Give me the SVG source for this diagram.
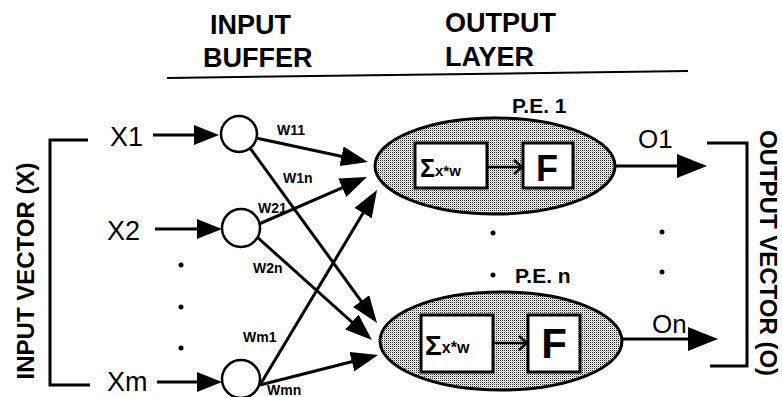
<svg xmlns="http://www.w3.org/2000/svg" width="782" height="397" viewBox="0 0 782 397">
  <style>
    text { font-family: "Liberation Sans", Arial, Helvetica, sans-serif; fill: #000; }
    .hdr { font-size: 27px; font-weight: bold; }
    .inp { font-size: 27px; }
    .out { font-size: 26px; }
    .w { font-size: 14px; font-weight: bold; }
    .pe { font-size: 21px; font-weight: bold; }
    .vec { font-size: 24px; font-weight: bold; }
    .sig { font-weight: bold; }
    .f { font-weight: bold; text-anchor: middle; }
    .wire { stroke: #000; stroke-width: 3; fill: none; }
    .thin { stroke: #000; stroke-width: 2.5; fill: none; }
    .buf { fill: #fff; stroke: #000; stroke-width: 2.5; }
    .pe-shape { fill: url(#stipple); stroke: #000; stroke-width: 3; }
    .box { fill: #fff; stroke: #000; stroke-width: 3; }
    .dot { fill: #000; }
  </style>
  <defs>
    <!-- fine dot screen used as the shading of the processing elements -->
    <pattern id="stipple" width="2" height="2" patternUnits="userSpaceOnUse">
      <rect width="2" height="2" fill="#fff"/>
      <rect width="1" height="1" fill="#222"/>
      <rect x="1" y="1" width="1" height="1" fill="#c4c4c4"/>
    </pattern>
    <!-- solid arrowhead for weighted connections; tip sits 6px past the line end -->
    <marker id="ah" viewBox="0 0 27 20" refX="21" refY="10" markerWidth="27" markerHeight="20" orient="auto" markerUnits="userSpaceOnUse">
      <path d="M0,0 L27,10 L0,20 Z" fill="#000"/>
    </marker>
    <!-- arrowhead for input lines -->
    <marker id="ahIn" viewBox="0 0 25 20" refX="19" refY="10" markerWidth="25" markerHeight="20" orient="auto" markerUnits="userSpaceOnUse">
      <path d="M0,0 L25,10 L0,20 Z" fill="#000"/>
    </marker>
    <!-- arrowhead for output lines -->
    <marker id="ahOut" viewBox="0 0 30 24" refX="24" refY="12" markerWidth="30" markerHeight="24" orient="auto" markerUnits="userSpaceOnUse">
      <path d="M0,0 L30,12 L0,24 Z" fill="#000"/>
    </marker>
  </defs>

  <!-- column headings -->
  <g id="headings">
    <text class="hdr" x="210" y="34">INPUT</text>
    <text class="hdr" x="203" y="67">BUFFER</text>
    <text class="hdr" x="445" y="32">OUTPUT</text>
    <text class="hdr" x="445" y="66">LAYER</text>
    <line x1="167" y1="78" x2="688" y2="71" stroke="#000" stroke-width="2"/>
  </g>

  <!-- input vector bracket -->
  <g id="input-vector">
    <polyline class="wire" points="88,140 50,140 50,385 90,385"/>
    <text class="vec" transform="translate(34,271) rotate(-90)" text-anchor="middle">INPUT VECTOR (X)</text>
  </g>

  <!-- inputs -->
  <g id="x1"><text class="inp" x="110" y="146">X1</text></g>
  <g id="x2"><text class="inp" x="107" y="240">X2</text></g>
  <g id="xm"><text class="inp" x="107" y="391">Xm</text></g>

  <!-- input buffer nodes -->
  <g id="buf1"><circle class="buf" cx="239" cy="134" r="18"/></g>
  <g id="buf2"><circle class="buf" cx="241" cy="228" r="19"/></g>
  <g id="bufm"><circle class="buf" cx="241" cy="379" r="19"/></g>

  <!-- ellipsis dots -->
  <g id="dots">
    <circle class="dot" cx="181" cy="265" r="2.5"/>
    <circle class="dot" cx="181" cy="307" r="2.5"/>
    <circle class="dot" cx="181" cy="348" r="2.5"/>
    <circle class="dot" cx="493" cy="233" r="2.5"/>
    <circle class="dot" cx="493" cy="275" r="2.5"/>
    <circle class="dot" cx="662" cy="232" r="2.5"/>
    <circle class="dot" cx="662" cy="272" r="2.5"/>
  </g>

  <!-- processing element 1 -->
  <g id="pe1">
    <text class="pe" x="512" y="113">P.E. 1</text>
    <ellipse class="pe-shape" cx="495" cy="166" rx="120" ry="48"/>
    <rect class="box" x="415" y="143" width="72" height="45"/>
    <text class="sig" x="420" y="177"><tspan font-size="25">Σ</tspan><tspan font-size="15" dy="-1">x*w</tspan></text>
    <line class="thin" x1="487" y1="167" x2="521" y2="167"/>
    <polyline class="thin" points="514,160 522,167 514,174"/>
    <rect class="box" x="523" y="143" width="50" height="45"/>
    <text class="f" x="547" y="181" font-size="36">F</text>
  </g>

  <!-- processing element n -->
  <g id="pen">
    <text class="pe" x="515" y="283">P.E. n</text>
    <ellipse class="pe-shape" cx="501" cy="341" rx="121" ry="49"/>
    <rect class="box" x="421" y="315" width="72" height="57"/>
    <text class="sig" x="425" y="355"><tspan font-size="28">Σ</tspan><tspan font-size="16" dy="-2">x*w</tspan></text>
    <line class="thin" x1="493" y1="343" x2="526" y2="343"/>
    <polyline class="thin" points="519,336 527,343 519,350"/>
    <rect class="box" x="528" y="315" width="52" height="57"/>
    <text class="f" x="554" y="358" font-size="42">F</text>
  </g>

  <!-- outputs -->
  <g id="o1"><text class="out" x="638" y="148">O1</text></g>
  <g id="on"><text class="out" x="652" y="333">On</text></g>

  <!-- output vector bracket -->
  <g id="output-vector">
    <polyline class="wire" points="707,143 747,143 747,366 710,366"/>
    <text class="vec" transform="translate(760,253) rotate(90)" text-anchor="middle">OUTPUT VECTOR (O)</text>
  </g>

  <!-- connectors -->
  <g id="connectors">
    <line class="wire" x1="153" y1="135" x2="213" y2="135" marker-end="url(#ahIn)"/>
    <line class="wire" x1="155" y1="229" x2="216" y2="229" marker-end="url(#ahIn)"/>
    <line class="wire" x1="157" y1="382" x2="216" y2="382" marker-end="url(#ahIn)"/>

    <line class="wire" x1="256" y1="138" x2="362.1" y2="160.7" marker-end="url(#ah)"/>
    <line class="wire" x1="250" y1="148" x2="373.5" y2="318.1" marker-end="url(#ah)"/>
    <line class="wire" x1="259" y1="224" x2="361.5" y2="179.4" marker-end="url(#ah)"/>
    <line class="wire" x1="257" y1="237" x2="367.5" y2="336" marker-end="url(#ah)"/>
    <line class="wire" x1="260" y1="385" x2="373.9" y2="195.1" marker-end="url(#ah)"/>
    <line class="wire" x1="260" y1="385" x2="372.2" y2="356.5" marker-end="url(#ah)"/>

    <line class="wire" x1="616" y1="166" x2="701" y2="166" marker-end="url(#ahOut)"/>
    <line class="wire" x1="622" y1="339" x2="712" y2="339" marker-end="url(#ahOut)"/>
  </g>

  <!-- weight labels -->
  <g id="weights">
    <text class="w" x="277" y="135">W11</text>
    <text class="w" x="283" y="183">W1n</text>
    <text class="w" x="258" y="213">W21</text>
    <text class="w" x="253" y="273">W2n</text>
    <text class="w" x="243" y="342">Wm1</text>
    <text class="w" x="267" y="395">Wmn</text>
  </g>
</svg>
